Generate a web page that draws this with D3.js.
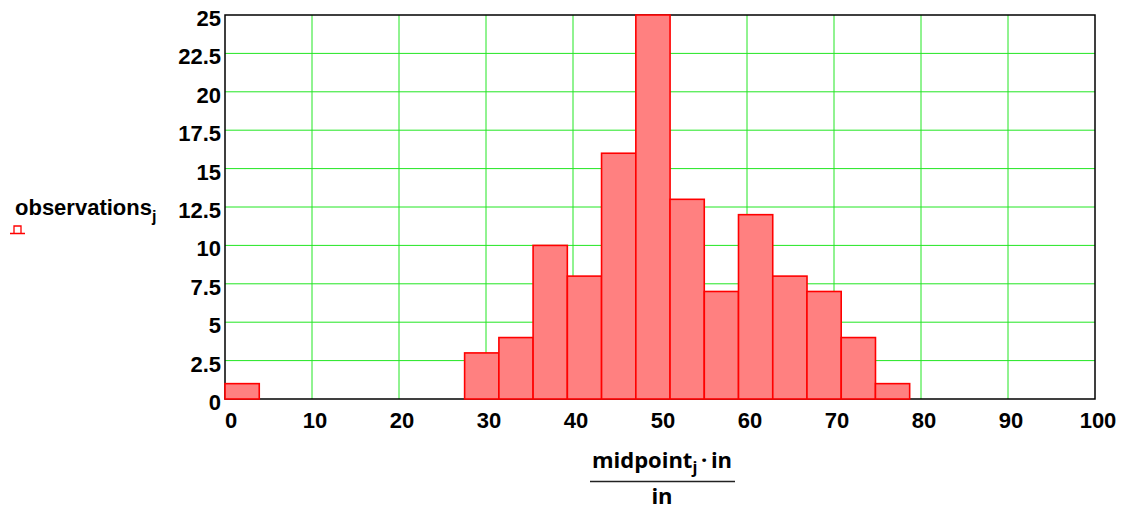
<!DOCTYPE html>
<html>
<head>
<meta charset="utf-8">
<script src="https://cdn.jsdelivr.net/npm/d3@7"></script>
<style>
  body { margin: 0; background: #fff; }
  text { font-family: "Liberation Sans", Arial, sans-serif; font-weight: bold; }
</style>
</head>
<body>
<div id="chart"></div>
<script>
/* DATA */
const midpoints = [1.97, 5.90, 9.84, 13.77, 17.71, 21.64, 25.58, 29.51, 33.45, 37.38,
  41.32, 45.25, 49.19, 53.12, 57.06, 60.99, 64.93, 68.86, 72.80, 76.73];
const observations = [1, 0, 0, 0, 0, 0, 0, 3, 4, 10, 8, 16, 25, 13, 7, 12, 8, 7, 4, 1];
const binWidth = 3.935;
const xTicks = [0, 10, 20, 30, 40, 50, 60, 70, 80, 90, 100];
const yTicks = [0, 2.5, 5, 7.5, 10, 12.5, 15, 17.5, 20, 22.5, 25];

const width = 1125, height = 512,
  margin = { top: 15, bottom: 113, left: 225, right: 30 };

const svg = d3.select("#chart").append("svg")
  .attr("width", width).attr("height", height);

const xScale = d3.scaleLinear().domain([0, 100]).range([margin.left, width - margin.right]);
const yScale = d3.scaleLinear().domain([0, 25]).range([height - margin.bottom, margin.top]);

// grid
svg.append("g").selectAll("line")
  .data(xTicks.slice(1, -1))
  .join("line")
  .attr("x1", d => xScale(d)).attr("x2", d => xScale(d))
  .attr("y1", yScale(0)).attr("y2", yScale(25))
  .attr("stroke", "#22e622").attr("stroke-width", 1);
svg.append("g").selectAll("line")
  .data(yTicks.slice(1, -1))
  .join("line")
  .attr("x1", xScale(0)).attr("x2", xScale(100))
  .attr("y1", d => yScale(d)).attr("y2", d => yScale(d))
  .attr("stroke", "#22e622").attr("stroke-width", 1);

// frame
svg.append("rect")
  .attr("x", xScale(0)).attr("y", yScale(25))
  .attr("width", xScale(100) - xScale(0)).attr("height", yScale(0) - yScale(25))
  .attr("fill", "none").attr("stroke", "#000").attr("stroke-width", 1.5);

// bars
svg.append("g").selectAll("rect")
  .data(midpoints.map((m, i) => ({ m, v: observations[i] })))
  .join("rect")
  .attr("x", d => xScale(d.m - binWidth / 2))
  .attr("width", d => xScale(d.m + binWidth / 2) - xScale(d.m - binWidth / 2))
  .attr("y", d => yScale(d.v))
  .attr("height", d => yScale(0) - yScale(d.v))
  .attr("fill", "#ff8080")
  .attr("stroke", "#ff0000")
  .attr("stroke-width", 1.6);

// tick labels
svg.append("g").selectAll("text")
  .data(xTicks)
  .join("text")
  .attr("x", d => xScale(d)).attr("y", yScale(0) + 29)
  .attr("text-anchor", d => d === 0 ? "start" : "middle")
  .attr("dx", d => d === 0 ? 0 : 3)
  .attr("font-size", 22)
  .text(d => d);
svg.append("g").selectAll("text")
  .data(yTicks)
  .join("text")
  .attr("x", xScale(0) - 4).attr("y", d => yScale(d) + 11)
  .attr("text-anchor", "end")
  .attr("font-size", 22)
  .text(d => d);

// y label
const yl = svg.append("text").attr("x", 15).attr("y", 215).attr("font-size", 22);
yl.append("tspan").text("observations");
yl.append("tspan").attr("font-size", 16).attr("dy", 7).text("j");
svg.append("path")
  .attr("d", "M10,233.5H25M14,233.5V226H21V233.5")
  .attr("fill", "none").attr("stroke", "#ff0000").attr("stroke-width", 1.3);

// x label (fraction)
const cx = 662;
const xl = svg.append("text").attr("x", cx).attr("y", 468)
  .attr("text-anchor", "middle").attr("font-size", 22)
  .style("font-family", "'Open Sans', sans-serif");
xl.append("tspan").text("midpoint");
xl.append("tspan").attr("font-size", 16).attr("dy", 5).text("j");
xl.append("tspan").attr("dy", -5).text("\u2009\u00b7\u2009in");
svg.append("line")
  .attr("x1", 590).attr("x2", 735).attr("y1", 481.5).attr("y2", 481.5)
  .attr("stroke", "#222").attr("stroke-width", 1.5);
svg.append("text").attr("x", cx).attr("y", 504)
  .attr("text-anchor", "middle").attr("font-size", 22)
  .style("font-family", "'Open Sans', sans-serif")
  .text("in");
</script>
</body>
</html>
